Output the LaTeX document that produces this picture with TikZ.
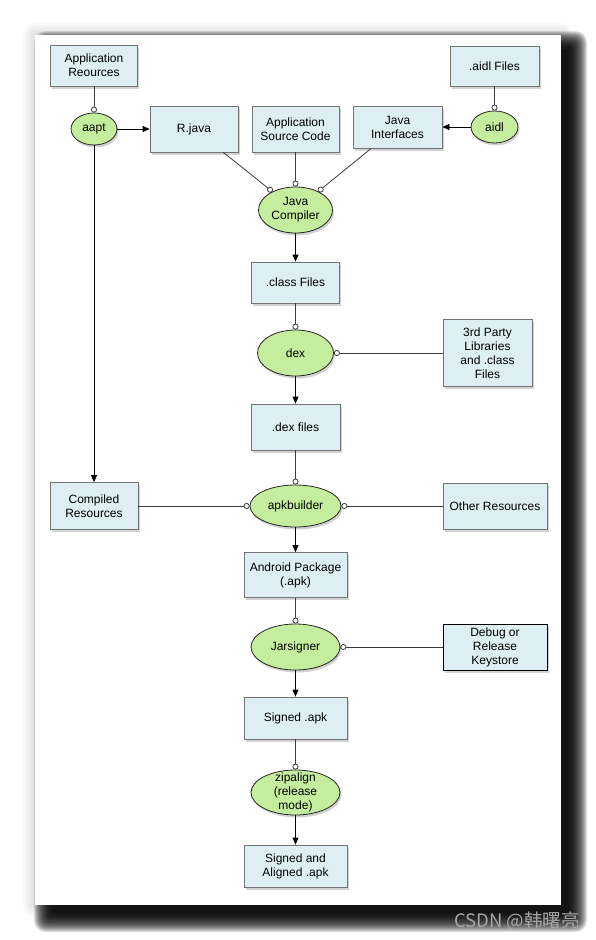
\documentclass[tikz,border=0pt]{standalone}
\usepackage{fontspec}
\setmainfont{Liberation Sans}
\newfontfamily\cjkfont{Noto Sans CJK SC}
\usetikzlibrary{shadows}
\usetikzlibrary{positioning}
\usetikzlibrary{arrows.meta,shapes.geometric}
\definecolor{fileblue}{RGB}{221,239,243}
\definecolor{toolgreen}{RGB}{196,238,158}
\definecolor{wiregray}{RGB}{60,60,60}
\tikzstyle{filebox}=[rectangle,draw=black!55,line width=0.8pt,fill=fileblue,align=center,inner sep=1pt,font=\fontsize{12}{14}\selectfont,drop shadow={shadow xshift=1.5pt,shadow yshift=-2.5pt,opacity=0.35}]
\tikzstyle{tool}=[ellipse,draw=black!85,line width=0.8pt,fill=toolgreen,inner sep=0pt,drop shadow={shadow xshift=1.5pt,shadow yshift=-2.5pt,opacity=0.35}]
\tikzstyle{toolname}=[align=center,inner sep=0pt,font=\fontsize{12}{14}\selectfont]
\tikzstyle{feed} = [draw,wiregray,line width=0.8pt,-{Circle[open,length=6pt,width=6pt]}]
\tikzstyle{product} = [draw,black,line width=0.8pt,-{Triangle[length=7pt,width=6pt]}]

\begin{document}
\begin{tikzpicture}[x=1pt,y=-1pt]
  \useasboundingbox (0,0) rectangle (596,940);

    % The sheet and its shadow
    \foreach \k in {0,...,19}
        \fill[black,opacity=0.12,rounded corners=0.6*\k pt] (53-\k,50-\k) rectangle (568+\k,913+\k);
    \foreach \k in {2,4,...,12}
        \fill[black,opacity=0.02,rounded corners=\k pt] (35-\k,35-\k) rectangle (561+\k,905+\k);
    \fill[white] (35,35) rectangle (561,905);

    % First we draw the files
    \foreach \pos/\name/\w/\h/\label in {{(94,65.5)/appres/87/41/{Application\\Reources}}, {(194,129)/rjava/88/46/R.java}, {(295.5,129)/appsrc/87/46/{Application\\Source Code}}, {(397.5,127)/javaint/89/42/{Java\\Interfaces}}, {(494.5,66)/aidlf/89/40/.aidl Files}, {(295.5,282.5)/classf/88/41/.class Files}, {(487.5,353)/thirdp/89/67/{3rd Party\\Libraries\\and .class\\Files}}, {(295.5,427)/dexf/89/46/.dex files}, {(94,506)/compres/88/47/{Compiled\\Resources}}, {(495,506)/otherres/104/46/Other Resources}, {(295.5,575)/apk/103/45/{Android Package\\(.apk)}}, {(295.5,718)/signed/103/42/Signed .apk}, {(295.5,866)/aligned/103/42/{Signed and\\Aligned .apk}}}
        \node[filebox,minimum width=\w pt,minimum height=\h pt] (\name) at \pos {\label};
    \node[filebox,draw=black,minimum width=104pt,minimum height=46pt] (keystore) at (495,647) {Debug or\\Release\\Keystore};

    % Then the tools
    \foreach \pos/\name/\w/\h/\label in {{(94,129)/aapt/46/32/aapt}, {(494.5,127)/aidl/47/32/aidl}, {(295.5,210)/javac/74/46/{Java\\Compiler}}, {(295.5,353)/dex/76/46/dex}, {(295.5,506)/apkb/91/42/apkbuilder}, {(295.5,647)/jarsign/89/46/Jarsigner}, {(295.5,792.5)/zipal/89/45/{zipalign\\(release\\mode)}}}
        \node[tool,minimum width=\w pt,minimum height=\h pt,label={[toolname]center:\label}] (\name) at \pos {};

    % Inputs of each tool end in a small ring
  \foreach \source/ \dest in {appres/aapt, aidlf/aidl, rjava/javac, appsrc/javac, javaint/javac, classf/dex, thirdp/dex, dexf/apkb, compres/apkb, otherres/apkb, apk/jarsign, keystore/jarsign, signed/zipal}
          \path[feed] (\source) -- (\dest);

    % Outputs of each tool
  \foreach \source/ \dest in {aapt/rjava, aapt/compres, aidl/javaint, javac/classf, dex/dexf, apkb/apk, jarsign/signed, zipal/aligned}
          \path[product] (\source) -- (\dest);

  \node[text=black!35,font=\cjkfont\fontsize{18.5}{20}\selectfont] (wmark) at (517,921) {CSDN @韩曙亮};

   \end{tikzpicture}
\end{document}
